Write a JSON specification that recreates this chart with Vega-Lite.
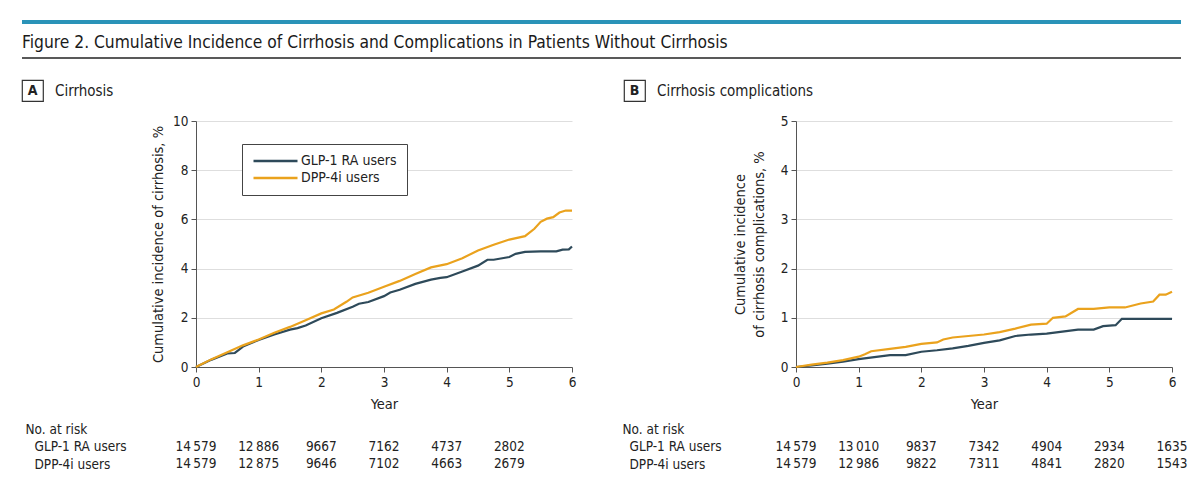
{
  "$schema": "https://vega.github.io/schema/vega-lite/v6.json",
  "padding": {"left": 20, "top": 20, "right": 20, "bottom": 10},
  "background": "white",
  "config": {
    "font": "'Liberation Sans Narrow', 'DejaVu Sans Condensed', Lato, sans-serif",
    "view": {"stroke": null},
    "axis": {
      "labelFontSize": 13.5, "titleFontSize": 14.5, "titleFontWeight": "normal",
      "labelColor": "#222", "titleColor": "#222",
      "domainColor": "#555", "tickColor": "#555", "gridColor": "#dedede",
      "tickSize": 5, "labelPadding": 3
    },
    "text": {"color": "#222"}
  },
  "datasets": {
    "curves": [
      {"panel": "A", "group": "GLP-1 RA users", "t": 0, "v": 0},
      {"panel": "A", "group": "GLP-1 RA users", "t": 0.25, "v": 0.3},
      {"panel": "A", "group": "GLP-1 RA users", "t": 0.5, "v": 0.55},
      {"panel": "A", "group": "GLP-1 RA users", "t": 0.62, "v": 0.57},
      {"panel": "A", "group": "GLP-1 RA users", "t": 0.75, "v": 0.83},
      {"panel": "A", "group": "GLP-1 RA users", "t": 1, "v": 1.1},
      {"panel": "A", "group": "GLP-1 RA users", "t": 1.25, "v": 1.32},
      {"panel": "A", "group": "GLP-1 RA users", "t": 1.5, "v": 1.52},
      {"panel": "A", "group": "GLP-1 RA users", "t": 1.62, "v": 1.58},
      {"panel": "A", "group": "GLP-1 RA users", "t": 1.75, "v": 1.69},
      {"panel": "A", "group": "GLP-1 RA users", "t": 2, "v": 1.98},
      {"panel": "A", "group": "GLP-1 RA users", "t": 2.25, "v": 2.2},
      {"panel": "A", "group": "GLP-1 RA users", "t": 2.5, "v": 2.45},
      {"panel": "A", "group": "GLP-1 RA users", "t": 2.6, "v": 2.57},
      {"panel": "A", "group": "GLP-1 RA users", "t": 2.75, "v": 2.64},
      {"panel": "A", "group": "GLP-1 RA users", "t": 3, "v": 2.88},
      {"panel": "A", "group": "GLP-1 RA users", "t": 3.1, "v": 3.03},
      {"panel": "A", "group": "GLP-1 RA users", "t": 3.25, "v": 3.14},
      {"panel": "A", "group": "GLP-1 RA users", "t": 3.5, "v": 3.38},
      {"panel": "A", "group": "GLP-1 RA users", "t": 3.75, "v": 3.55},
      {"panel": "A", "group": "GLP-1 RA users", "t": 3.9, "v": 3.62},
      {"panel": "A", "group": "GLP-1 RA users", "t": 4, "v": 3.65},
      {"panel": "A", "group": "GLP-1 RA users", "t": 4.25, "v": 3.88},
      {"panel": "A", "group": "GLP-1 RA users", "t": 4.5, "v": 4.12},
      {"panel": "A", "group": "GLP-1 RA users", "t": 4.65, "v": 4.36},
      {"panel": "A", "group": "GLP-1 RA users", "t": 4.75, "v": 4.36},
      {"panel": "A", "group": "GLP-1 RA users", "t": 5, "v": 4.47},
      {"panel": "A", "group": "GLP-1 RA users", "t": 5.1, "v": 4.6},
      {"panel": "A", "group": "GLP-1 RA users", "t": 5.25, "v": 4.68},
      {"panel": "A", "group": "GLP-1 RA users", "t": 5.5, "v": 4.7},
      {"panel": "A", "group": "GLP-1 RA users", "t": 5.75, "v": 4.7},
      {"panel": "A", "group": "GLP-1 RA users", "t": 5.85, "v": 4.77},
      {"panel": "A", "group": "GLP-1 RA users", "t": 5.95, "v": 4.78},
      {"panel": "A", "group": "GLP-1 RA users", "t": 6, "v": 4.9},
      {"panel": "A", "group": "DPP-4i users", "t": 0, "v": 0},
      {"panel": "A", "group": "DPP-4i users", "t": 0.25, "v": 0.32},
      {"panel": "A", "group": "DPP-4i users", "t": 0.5, "v": 0.6},
      {"panel": "A", "group": "DPP-4i users", "t": 0.75, "v": 0.88},
      {"panel": "A", "group": "DPP-4i users", "t": 1, "v": 1.12},
      {"panel": "A", "group": "DPP-4i users", "t": 1.25, "v": 1.39},
      {"panel": "A", "group": "DPP-4i users", "t": 1.5, "v": 1.63},
      {"panel": "A", "group": "DPP-4i users", "t": 1.75, "v": 1.9},
      {"panel": "A", "group": "DPP-4i users", "t": 2, "v": 2.18},
      {"panel": "A", "group": "DPP-4i users", "t": 2.2, "v": 2.34},
      {"panel": "A", "group": "DPP-4i users", "t": 2.4, "v": 2.65},
      {"panel": "A", "group": "DPP-4i users", "t": 2.5, "v": 2.83},
      {"panel": "A", "group": "DPP-4i users", "t": 2.75, "v": 3.02},
      {"panel": "A", "group": "DPP-4i users", "t": 3, "v": 3.26},
      {"panel": "A", "group": "DPP-4i users", "t": 3.25, "v": 3.5},
      {"panel": "A", "group": "DPP-4i users", "t": 3.5, "v": 3.78},
      {"panel": "A", "group": "DPP-4i users", "t": 3.75, "v": 4.05},
      {"panel": "A", "group": "DPP-4i users", "t": 4, "v": 4.18},
      {"panel": "A", "group": "DPP-4i users", "t": 4.25, "v": 4.42},
      {"panel": "A", "group": "DPP-4i users", "t": 4.5, "v": 4.74},
      {"panel": "A", "group": "DPP-4i users", "t": 4.75, "v": 4.97},
      {"panel": "A", "group": "DPP-4i users", "t": 5, "v": 5.18},
      {"panel": "A", "group": "DPP-4i users", "t": 5.25, "v": 5.32},
      {"panel": "A", "group": "DPP-4i users", "t": 5.4, "v": 5.62},
      {"panel": "A", "group": "DPP-4i users", "t": 5.5, "v": 5.9},
      {"panel": "A", "group": "DPP-4i users", "t": 5.6, "v": 6.03},
      {"panel": "A", "group": "DPP-4i users", "t": 5.7, "v": 6.09},
      {"panel": "A", "group": "DPP-4i users", "t": 5.8, "v": 6.28},
      {"panel": "A", "group": "DPP-4i users", "t": 5.9, "v": 6.36},
      {"panel": "A", "group": "DPP-4i users", "t": 6, "v": 6.36},
      {"panel": "B", "group": "GLP-1 RA users", "t": 0, "v": 0},
      {"panel": "B", "group": "GLP-1 RA users", "t": 0.25, "v": 0.03},
      {"panel": "B", "group": "GLP-1 RA users", "t": 0.5, "v": 0.07},
      {"panel": "B", "group": "GLP-1 RA users", "t": 0.75, "v": 0.11},
      {"panel": "B", "group": "GLP-1 RA users", "t": 1, "v": 0.16},
      {"panel": "B", "group": "GLP-1 RA users", "t": 1.25, "v": 0.2},
      {"panel": "B", "group": "GLP-1 RA users", "t": 1.5, "v": 0.24},
      {"panel": "B", "group": "GLP-1 RA users", "t": 1.75, "v": 0.24},
      {"panel": "B", "group": "GLP-1 RA users", "t": 2, "v": 0.31},
      {"panel": "B", "group": "GLP-1 RA users", "t": 2.25, "v": 0.34},
      {"panel": "B", "group": "GLP-1 RA users", "t": 2.5, "v": 0.38},
      {"panel": "B", "group": "GLP-1 RA users", "t": 2.75, "v": 0.43},
      {"panel": "B", "group": "GLP-1 RA users", "t": 3, "v": 0.49},
      {"panel": "B", "group": "GLP-1 RA users", "t": 3.25, "v": 0.54},
      {"panel": "B", "group": "GLP-1 RA users", "t": 3.5, "v": 0.63},
      {"panel": "B", "group": "GLP-1 RA users", "t": 3.75, "v": 0.66},
      {"panel": "B", "group": "GLP-1 RA users", "t": 4, "v": 0.68},
      {"panel": "B", "group": "GLP-1 RA users", "t": 4.25, "v": 0.72},
      {"panel": "B", "group": "GLP-1 RA users", "t": 4.5, "v": 0.76},
      {"panel": "B", "group": "GLP-1 RA users", "t": 4.75, "v": 0.76},
      {"panel": "B", "group": "GLP-1 RA users", "t": 4.9, "v": 0.83},
      {"panel": "B", "group": "GLP-1 RA users", "t": 5.1, "v": 0.85},
      {"panel": "B", "group": "GLP-1 RA users", "t": 5.2, "v": 0.98},
      {"panel": "B", "group": "GLP-1 RA users", "t": 6, "v": 0.98},
      {"panel": "B", "group": "DPP-4i users", "t": 0, "v": 0},
      {"panel": "B", "group": "DPP-4i users", "t": 0.25, "v": 0.05},
      {"panel": "B", "group": "DPP-4i users", "t": 0.5, "v": 0.09},
      {"panel": "B", "group": "DPP-4i users", "t": 0.75, "v": 0.14},
      {"panel": "B", "group": "DPP-4i users", "t": 1, "v": 0.21},
      {"panel": "B", "group": "DPP-4i users", "t": 1.1, "v": 0.26},
      {"panel": "B", "group": "DPP-4i users", "t": 1.2, "v": 0.32},
      {"panel": "B", "group": "DPP-4i users", "t": 1.5, "v": 0.37},
      {"panel": "B", "group": "DPP-4i users", "t": 1.75, "v": 0.41},
      {"panel": "B", "group": "DPP-4i users", "t": 2, "v": 0.47},
      {"panel": "B", "group": "DPP-4i users", "t": 2.25, "v": 0.5},
      {"panel": "B", "group": "DPP-4i users", "t": 2.35, "v": 0.56},
      {"panel": "B", "group": "DPP-4i users", "t": 2.5, "v": 0.6},
      {"panel": "B", "group": "DPP-4i users", "t": 2.75, "v": 0.63},
      {"panel": "B", "group": "DPP-4i users", "t": 3, "v": 0.66},
      {"panel": "B", "group": "DPP-4i users", "t": 3.25, "v": 0.71},
      {"panel": "B", "group": "DPP-4i users", "t": 3.5, "v": 0.78},
      {"panel": "B", "group": "DPP-4i users", "t": 3.75, "v": 0.86},
      {"panel": "B", "group": "DPP-4i users", "t": 4, "v": 0.88},
      {"panel": "B", "group": "DPP-4i users", "t": 4.1, "v": 1.0},
      {"panel": "B", "group": "DPP-4i users", "t": 4.3, "v": 1.03},
      {"panel": "B", "group": "DPP-4i users", "t": 4.5, "v": 1.18},
      {"panel": "B", "group": "DPP-4i users", "t": 4.75, "v": 1.18},
      {"panel": "B", "group": "DPP-4i users", "t": 5, "v": 1.21},
      {"panel": "B", "group": "DPP-4i users", "t": 5.25, "v": 1.21},
      {"panel": "B", "group": "DPP-4i users", "t": 5.5, "v": 1.29},
      {"panel": "B", "group": "DPP-4i users", "t": 5.7, "v": 1.33},
      {"panel": "B", "group": "DPP-4i users", "t": 5.8, "v": 1.47},
      {"panel": "B", "group": "DPP-4i users", "t": 5.9, "v": 1.47},
      {"panel": "B", "group": "DPP-4i users", "t": 6, "v": 1.53}
    ],
    "risk": [
      {"panel": "A", "group": "GLP-1 RA users", "t": 0, "n": 14579},
      {"panel": "A", "group": "GLP-1 RA users", "t": 1, "n": 12886},
      {"panel": "A", "group": "GLP-1 RA users", "t": 2, "n": 9667},
      {"panel": "A", "group": "GLP-1 RA users", "t": 3, "n": 7162},
      {"panel": "A", "group": "GLP-1 RA users", "t": 4, "n": 4737},
      {"panel": "A", "group": "GLP-1 RA users", "t": 5, "n": 2802},
      {"panel": "A", "group": "DPP-4i users", "t": 0, "n": 14579},
      {"panel": "A", "group": "DPP-4i users", "t": 1, "n": 12875},
      {"panel": "A", "group": "DPP-4i users", "t": 2, "n": 9646},
      {"panel": "A", "group": "DPP-4i users", "t": 3, "n": 7102},
      {"panel": "A", "group": "DPP-4i users", "t": 4, "n": 4663},
      {"panel": "A", "group": "DPP-4i users", "t": 5, "n": 2679},
      {"panel": "B", "group": "GLP-1 RA users", "t": 0, "n": 14579},
      {"panel": "B", "group": "GLP-1 RA users", "t": 1, "n": 13010},
      {"panel": "B", "group": "GLP-1 RA users", "t": 2, "n": 9837},
      {"panel": "B", "group": "GLP-1 RA users", "t": 3, "n": 7342},
      {"panel": "B", "group": "GLP-1 RA users", "t": 4, "n": 4904},
      {"panel": "B", "group": "GLP-1 RA users", "t": 5, "n": 2934},
      {"panel": "B", "group": "GLP-1 RA users", "t": 6, "n": 1635},
      {"panel": "B", "group": "DPP-4i users", "t": 0, "n": 14579},
      {"panel": "B", "group": "DPP-4i users", "t": 1, "n": 12986},
      {"panel": "B", "group": "DPP-4i users", "t": 2, "n": 9822},
      {"panel": "B", "group": "DPP-4i users", "t": 3, "n": 7311},
      {"panel": "B", "group": "DPP-4i users", "t": 4, "n": 4841},
      {"panel": "B", "group": "DPP-4i users", "t": 5, "n": 2820},
      {"panel": "B", "group": "DPP-4i users", "t": 6, "n": 1543}
    ]
  },
  "spacing": 20,
  "vconcat": [
    {
      "width": 1159, "height": 36,
      "data": {"values": [{"title": "Figure 2. Cumulative Incidence of Cirrhosis and Complications in Patients Without Cirrhosis"}]},
      "layer": [
        {"mark": {"type": "rule", "color": "#2a93b8", "strokeWidth": 4},
         "encoding": {"y": {"datum": 1, "type": "quantitative", "scale": {"domain": [0, 1], "nice": false}, "axis": null}}},
        {"mark": {"type": "rule", "color": "#222", "strokeWidth": 1.5},
         "encoding": {"y": {"datum": 0, "type": "quantitative", "scale": {"domain": [0, 1], "nice": false}, "axis": null}}},
        {"mark": {"type": "text", "align": "left", "baseline": "alphabetic", "fontSize": 17.3, "color": "#1a1a1a"},
         "encoding": {
           "text": {"field": "title"},
           "x": {"datum": 0, "type": "quantitative", "scale": {"domain": [0, 1], "nice": false}, "axis": null},
           "y": {"datum": 0.28, "type": "quantitative", "axis": null}
         }}
      ]
    },
    {
      "spacing": 12,
      "vconcat": [
        {
          "bounds": "flush",
          "spacing": 581,
          "hconcat": [
            {
              "width": 21, "height": 21,
              "view": {"stroke": "#333", "strokeWidth": 1.2},
              "data": {"values": [{"panel": "A", "name": "Cirrhosis"}]},
              "layer": [
                {"mark": {"type": "text", "fontSize": 14, "fontWeight": "bold", "align": "center", "baseline": "middle"},
                 "encoding": {
                   "text": {"field": "panel"},
                   "x": {"datum": 0.5, "type": "quantitative", "scale": {"domain": [0, 1], "nice": false}, "axis": null},
                   "y": {"datum": 0.5, "type": "quantitative", "scale": {"domain": [0, 1], "nice": false}, "axis": null}
                 }},
                {"mark": {"type": "text", "fontSize": 15, "align": "left", "baseline": "middle", "dx": 12},
                 "encoding": {
                   "text": {"field": "name"},
                   "x": {"datum": 1, "type": "quantitative"},
                   "y": {"datum": 0.5, "type": "quantitative"}
                 }}
              ]
            },
            {
              "width": 21, "height": 21,
              "view": {"stroke": "#333", "strokeWidth": 1.2},
              "data": {"values": [{"panel": "B", "name": "Cirrhosis complications"}]},
              "layer": [
                {"mark": {"type": "text", "fontSize": 14, "fontWeight": "bold", "align": "center", "baseline": "middle"},
                 "encoding": {
                   "text": {"field": "panel"},
                   "x": {"datum": 0.5, "type": "quantitative", "scale": {"domain": [0, 1], "nice": false}, "axis": null},
                   "y": {"datum": 0.5, "type": "quantitative", "scale": {"domain": [0, 1], "nice": false}, "axis": null}
                 }},
                {"mark": {"type": "text", "fontSize": 15, "align": "left", "baseline": "middle", "dx": 12},
                 "encoding": {
                   "text": {"field": "name"},
                   "x": {"datum": 1, "type": "quantitative"},
                   "y": {"datum": 0.5, "type": "quantitative"}
                 }}
              ]
            }
          ]
        },
        {
          "spacing": 11,
          "vconcat": [
            {
              "bounds": "flush",
              "spacing": 0,
              "resolve": {"scale": {"color": "independent"}, "legend": {"color": "independent"}},
              "hconcat": [
                {"width": 174, "height": 1, "data": {"values": []}, "mark": "point", "encoding": {}},
                {
                  "width": 376, "height": 246,
                  "data": {"name": "curves"},
                  "transform": [{"filter": "datum.panel == 'A'"}],
                  "mark": {"type": "line", "strokeWidth": 2.2},
                  "encoding": {
                    "x": {"field": "t", "type": "quantitative", "scale": {"domain": [0, 6], "nice": false},
                          "axis": {"title": "Year", "values": [0, 1, 2, 3, 4, 5, 6], "grid": false, "titlePadding": 9, "labelFlush": false}},
                    "y": {"field": "v", "type": "quantitative", "scale": {"domain": [0, 10], "nice": false},
                          "axis": {"title": "Cumulative incidence of cirrhosis, %", "values": [0, 2, 4, 6, 8, 10], "grid": true, "titlePadding": 7, "labelFlush": false}},
                    "color": {"field": "group", "type": "nominal",
                              "scale": {"domain": ["GLP-1 RA users", "DPP-4i users"], "range": ["#2e4a5a", "#eaa21d"]},
                              "legend": {"title": null, "orient": "none", "legendX": 46, "legendY": 23, "padding": 10,
                                         "strokeColor": "#444", "fillColor": "white", "labelFontSize": 14, "labelColor": "#222",
                                         "symbolType": "M-1,0H7", "symbolSize": 121, "symbolStrokeWidth": 2.5,
                                         "labelOffset": 35, "rowPadding": 3}}
                  }
                },
                {"width": 224, "height": 1, "data": {"values": []}, "mark": "point", "encoding": {}},
                {
                  "width": 376, "height": 246,
                  "data": {"name": "curves"},
                  "transform": [{"filter": "datum.panel == 'B'"}],
                  "mark": {"type": "line", "strokeWidth": 2.2},
                  "encoding": {
                    "x": {"field": "t", "type": "quantitative", "scale": {"domain": [0, 6], "nice": false},
                          "axis": {"title": "Year", "values": [0, 1, 2, 3, 4, 5, 6], "grid": false, "titlePadding": 9, "labelFlush": false}},
                    "y": {"field": "v", "type": "quantitative", "scale": {"domain": [0, 5], "nice": false},
                          "axis": {"title": ["Cumulative incidence", "of cirrhosis complications, %"], "values": [0, 1, 2, 3, 4, 5], "grid": true, "titlePadding": 14, "titleLineHeight": 19, "labelFlush": false}},
                    "color": {"field": "group", "type": "nominal",
                              "scale": {"domain": ["GLP-1 RA users", "DPP-4i users"], "range": ["#2e4a5a", "#eaa21d"]},
                              "legend": null}
                  }
                }
              ]
            },
            {
              "bounds": "flush",
              "spacing": 0,
              "hconcat": [
                {"width": 174, "height": 1, "data": {"values": []}, "mark": "point", "encoding": {}},
                {
                  "width": 376, "height": 35,
                  "data": {"name": "risk"},
                  "transform": [
                    {"filter": "datum.panel == 'A'"},
                    {"calculate": "datum.n >= 10000 ? replace(format(datum.n, ','), ',', '\u2009') : format(datum.n, 'd')", "as": "label"}
                  ],
                  "mark": {"type": "text", "fontSize": 13.5, "align": "center", "baseline": "middle"},
                  "encoding": {
                    "x": {"field": "t", "type": "quantitative", "scale": {"domain": [0, 6], "nice": false}, "axis": null},
                    "y": {"field": "group", "type": "nominal", "scale": {"domain": ["GLP-1 RA users", "DPP-4i users"]},
                          "axis": {"title": "No. at risk", "titleAngle": 0, "titleAlign": "left", "titleBaseline": "middle",
                                   "titleX": -171, "titleY": -9, "titleFontSize": 13.5,
                                   "labelAlign": "left", "labelPadding": 162, "labelFontSize": 13.5,
                                   "ticks": false, "tickSize": 0, "domain": false, "grid": false}},
                    "text": {"field": "label"}
                  }
                },
                {"width": 224, "height": 1, "data": {"values": []}, "mark": "point", "encoding": {}},
                {
                  "width": 376, "height": 35,
                  "data": {"name": "risk"},
                  "transform": [
                    {"filter": "datum.panel == 'B'"},
                    {"calculate": "datum.n >= 10000 ? replace(format(datum.n, ','), ',', '\u2009') : format(datum.n, 'd')", "as": "label"}
                  ],
                  "mark": {"type": "text", "fontSize": 13.5, "align": "center", "baseline": "middle"},
                  "encoding": {
                    "x": {"field": "t", "type": "quantitative", "scale": {"domain": [0, 6], "nice": false}, "axis": null},
                    "y": {"field": "group", "type": "nominal", "scale": {"domain": ["GLP-1 RA users", "DPP-4i users"]},
                          "axis": {"title": "No. at risk", "titleAngle": 0, "titleAlign": "left", "titleBaseline": "middle",
                                   "titleX": -174, "titleY": -9, "titleFontSize": 13.5,
                                   "labelAlign": "left", "labelPadding": 167, "labelFontSize": 13.5,
                                   "ticks": false, "tickSize": 0, "domain": false, "grid": false}},
                    "text": {"field": "label"}
                  }
                }
              ]
            }
          ]
        }
      ]
    }
  ]
}
